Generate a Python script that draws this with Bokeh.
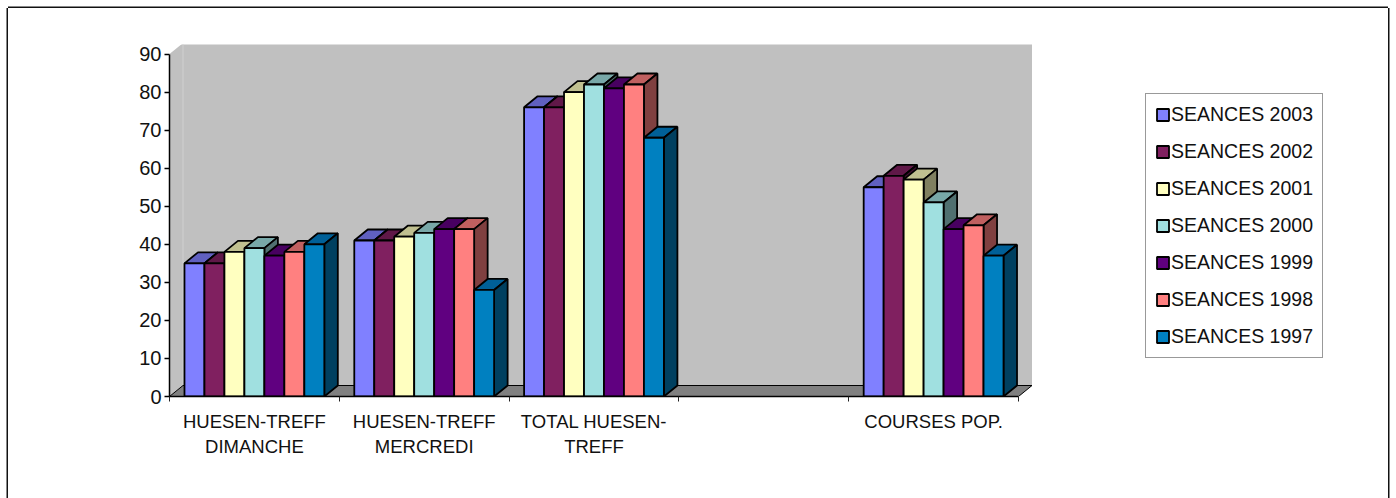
from bokeh.plotting import figure
from bokeh.models import FixedTicker, Legend, LegendItem, Range1d
from bokeh.embed import file_html
from bokeh.resources import INLINE

categories = ["HUESEN-TREFF\nDIMANCHE", "HUESEN-TREFF\nMERCREDI", "TOTAL HUESEN-\nTREFF", "", "COURSES POP."]
names = ["SEANCES 2003", "SEANCES 2002", "SEANCES 2001", "SEANCES 2000", "SEANCES 1999", "SEANCES 1998", "SEANCES 1997"]
s2003 = [35, 41, 76, None, 55]
s2002 = [35, 41, 76, None, 58]
s2001 = [38, 42, 80, None, 57]
s2000 = [39, 43, 82, None, 51]
s1999 = [37, 44, 81, None, 44]
s1998 = [38, 44, 82, None, 45]
s1997 = [40, 28, 68, None, 37]
series = [s2003, s2002, s2001, s2000, s1999, s1998, s1997]
front = ["#8080ff", "#802060", "#ffffc0", "#a0e0e0", "#600080", "#ff8080", "#0080c0"]
top = ["#6060c0", "#601848", "#c0c090", "#78a8a8", "#480060", "#c06060", "#006098"]
side = ["#404080", "#401030", "#808060", "#507070", "#300040", "#804040", "#004060"]

PX_X, PX_Y = 169.8, 3.805           # pixels per category / per value unit
DX, DY = 13.5 / PX_X, 11 / PX_Y     # depth of the 3D box in data units
BW = 1 / 8.5
N = len(categories)

p = figure(width=1380, height=490, output_backend="svg", toolbar_location=None,
           min_border_left=161, min_border_right=0, min_border_top=36, min_border_bottom=102,
           x_range=Range1d(0, 1219 / PX_X), y_range=Range1d(0, 352 / PX_Y),
           background_fill_color=None, border_fill_color="white", outline_line_color=None,
           margin=(8, 0, 0, 8),
           styles={"box-shadow": "-1.5px 0 0 #111111, 1.5px 0 0 #111111, 0 -1.5px 0 #111111"})
p.xgrid.visible = False
p.ygrid.visible = False

# walls and floor
p.patch([DX, N + DX, N + DX, DX], [DY, DY, 90 + DY, 90 + DY], fill_color="#c0c0c0", line_color=None)
p.patch([0, DX, DX, 0], [0, DY, 90 + DY, 90], fill_color="#c0c0c0", line_color=None)
p.line([DX, DX], [DY, 90 + DY], line_color="#d0d0d0", line_width=1)
p.patch([0, DX, N + DX, N], [0, DY, DY, 0], fill_color="#808080", line_color="black", line_width=1)

legend_items = []
for k, vals in enumerate(series):
    left, right, tops = [], [], []
    for i, v in enumerate(vals):
        if v is not None:
            left.append(i + (0.75 + k) * BW)
            right.append(i + (1.75 + k) * BW)
            tops.append(v)
    p.patches([[a, a + DX, b + DX, b] for a, b in zip(left, right)],
              [[v, v + DY, v + DY, v] for v in tops],
              fill_color=top[k], line_color="black", line_width=1.8)
    p.patches([[b, b + DX, b + DX, b] for b in right],
              [[0, DY, v + DY, v] for v in tops],
              fill_color=side[k], line_color="black", line_width=1.8)
    r = p.quad(left=left, right=right, bottom=0, top=tops,
               fill_color=front[k], line_color="black", line_width=1.8)
    legend_items.append(LegendItem(label=names[k], renderers=[r]))

# axes
yax = p.yaxis[0]
yax.ticker = FixedTicker(ticks=list(range(0, 100, 10)))
yax.bounds = (0, 90)
yax.axis_line_color = "black"
yax.axis_line_width = 1.5
yax.major_tick_line_color = "black"
yax.major_tick_line_width = 1.5
yax.major_tick_in = 0
yax.major_tick_out = 5
yax.minor_tick_line_color = None
yax.major_label_text_font = "Liberation Sans"
yax.major_label_text_font_size = "20px"
yax.major_label_text_color = "#111111"
yax.major_label_standoff = 3

xax = p.xaxis[0]
xax.ticker = FixedTicker(ticks=[i + 0.5 for i in range(N)], minor_ticks=list(range(N + 1)))
xax.major_label_overrides = {i + 0.5: c for i, c in enumerate(categories)}
xax.bounds = (0, N)
xax.axis_line_color = "black"
xax.axis_line_width = 1.5
xax.major_tick_line_color = None
xax.major_tick_in = 0
xax.major_tick_out = 5
xax.minor_tick_line_color = "#222222"
xax.minor_tick_line_width = 1
xax.minor_tick_in = 0
xax.minor_tick_out = 5
xax.major_label_text_font = "Liberation Sans"
xax.major_label_text_font_size = "18.5px"
xax.major_label_text_color = "#111111"
xax.major_label_standoff = 9
xax.major_label_orientation = "horizontal"

legend = Legend(items=legend_items, location=(1145 - 169, 396 - 358),
                orientation="vertical", margin=0, padding=9, spacing=14,
                glyph_width=15, glyph_height=15, label_height=15, label_standoff=1,
                border_line_color="#333333", border_line_width=1.5, background_fill_color="white",
                background_fill_alpha=1, label_text_font="Liberation Sans",
                label_text_font_size="19.5px", label_text_color="#111111", label_text_baseline="middle")
p.add_layout(legend)

open("out.html", "w").write(file_html(p, INLINE))
